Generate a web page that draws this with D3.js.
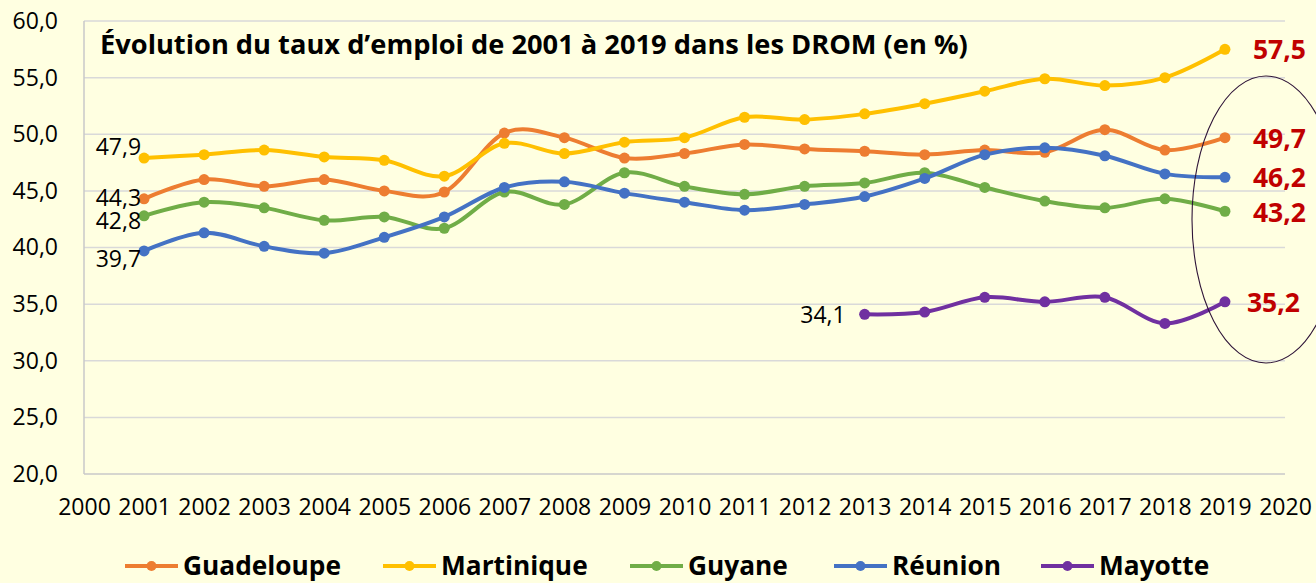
<!DOCTYPE html>
<html><head><meta charset="utf-8">
<script src="https://cdn.jsdelivr.net/npm/d3@7"></script>
<style>
html,body{margin:0;padding:0;background:#FFFFE1;}
svg{display:block;font-family:"Open Sans",sans-serif;}
</style>
</head><body>
<svg id="chart" width="1316" height="583"></svg>
<script>
// ---------- data ----------
const years = [2001,2002,2003,2004,2005,2006,2007,2008,2009,2010,2011,2012,2013,2014,2015,2016,2017,2018,2019];
const yearsMayotte = [2013,2014,2015,2016,2017,2018,2019];
const guadeloupe = [44.3,46.0,45.4,46.0,45.0,44.9,50.1,49.7,47.9,48.3,49.1,48.7,48.5,48.2,48.6,48.4,50.4,48.6,49.7];
const martinique = [47.9,48.2,48.6,48.0,47.7,46.3,49.2,48.3,49.3,49.7,51.5,51.3,51.8,52.7,53.8,54.9,54.3,55.0,57.5];
const guyane     = [42.8,44.0,43.5,42.4,42.7,41.7,44.9,43.8,46.6,45.4,44.7,45.4,45.7,46.6,45.3,44.1,43.5,44.3,43.2];
const reunion    = [39.7,41.3,40.1,39.5,40.9,42.7,45.3,45.8,44.8,44.0,43.3,43.8,44.5,46.1,48.2,48.8,48.1,46.5,46.2];
const mayotte    = [34.1,34.3,35.6,35.2,35.6,33.3,35.2];
const seriesNames = ["Guadeloupe","Martinique","Guyane","Réunion","Mayotte"];
const seriesColors = ["#ED7D31","#FFC000","#70AD47","#4472C4","#7030A0"];
const yTicks = [20,25,30,35,40,45,50,55,60];
const xTicks = [2000,2001,2002,2003,2004,2005,2006,2007,2008,2009,2010,2011,2012,2013,2014,2015,2016,2017,2018,2019,2020];
const titleText = "Évolution du taux d’emploi de 2001 à 2019 dans les DROM (en %)";

const fmt = v => v.toFixed(1).replace(".", ",");

const series = [
  {name: seriesNames[0], color: seriesColors[0], xs: years, ys: guadeloupe},
  {name: seriesNames[1], color: seriesColors[1], xs: years, ys: martinique},
  {name: seriesNames[2], color: seriesColors[2], xs: years, ys: guyane},
  {name: seriesNames[3], color: seriesColors[3], xs: years, ys: reunion},
  {name: seriesNames[4], color: seriesColors[4], xs: yearsMayotte, ys: mayotte}
];

// ---------- layout ----------
const svg = d3.select("#chart");
const x = d3.scaleLinear().domain([2000, 2020]).range([84, 1285]);
const y = d3.scaleLinear().domain([20, 60]).range([474, 21]);

// gridlines
svg.append("g").selectAll("line").data(yTicks.filter(t => t > 20)).join("line")
  .attr("x1", x(2000)).attr("x2", x(2020))
  .attr("y1", d => y(d)).attr("y2", d => y(d))
  .attr("stroke", "#D9D9D9").attr("stroke-width", 1.5);

// axes lines
svg.append("line").attr("x1", x(2000)).attr("x2", x(2000)).attr("y1", y(60)).attr("y2", y(20))
  .attr("stroke", "#C8C8C8").attr("stroke-width", 1.5);
svg.append("line").attr("x1", x(2000)).attr("x2", x(2020)).attr("y1", y(20)).attr("y2", y(20))
  .attr("stroke", "#C8C8C8").attr("stroke-width", 1.5);

// y axis labels
const yAxis = d3.axisLeft(y).tickValues(yTicks).tickFormat(fmt).tickSize(0).tickPadding(26);
const gy = svg.append("g").attr("transform", `translate(${x(2000)},0)`).call(yAxis);
gy.select(".domain").remove();
gy.selectAll("text").attr("font-size", 23).attr("fill", "#000").attr("font-family", "Open Sans");

// x axis labels
const xAxis = d3.axisBottom(x).tickValues(xTicks).tickFormat(d3.format("d")).tickSize(0).tickPadding(25);
const gx = svg.append("g").attr("transform", `translate(0,${y(20)})`).call(xAxis);
gx.select(".domain").remove();
gx.selectAll("text").attr("font-size", 23).attr("fill", "#000").attr("font-family", "Open Sans");

// title
const title = svg.append("text").attr("x", 100).attr("y", 54)
  .attr("font-size", 26).attr("font-weight", "bold").attr("fill", "#000").text(titleText);
(function fit(){
  const w = title.node().getComputedTextLength();
  title.attr("font-size", 26 * 868 / w);
})();

// lines
const line = d3.line().x(d => x(d[0])).y(d => y(d[1])).curve(d3.curveCardinal.tension(0));
series.forEach(s => {
  const pts = s.xs.map((yr, i) => [yr, s.ys[i]]);
  const g = svg.append("g");
  g.append("path").datum(pts).attr("d", line)
    .attr("fill", "none").attr("stroke", s.color).attr("stroke-width", 4).attr("stroke-linecap", "round");
  g.selectAll("circle").data(pts).join("circle")
    .attr("cx", d => x(d[0])).attr("cy", d => y(d[1])).attr("r", 5.5).attr("fill", s.color);
});

// left data labels (first value)
const leftLabelOffsets = {Martinique: -11, Guadeloupe: -1, Guyane: 5, "Réunion": 7.5, Mayotte: 0};
series.forEach(s => {
  const gap = s.name === "Mayotte" ? 19 : 3;
  svg.append("text")
    .attr("x", x(s.xs[0]) - gap)
    .attr("y", y(s.ys[0]) + leftLabelOffsets[s.name])
    .attr("dy", "0.36em").attr("text-anchor", "end")
    .attr("font-size", 23).attr("fill", "#000").text(fmt(s.ys[0]));
});

// right data labels (last value)
const rightLabelOffsets = {Martinique: 0, Guadeloupe: 1, Guyane: 1.5, "Réunion": 0.5, Mayotte: 1};
series.forEach(s => {
  const n = s.xs.length - 1;
  const gap = s.name === "Mayotte" ? 22 : 28;
  svg.append("text")
    .attr("x", x(s.xs[n]) + gap)
    .attr("y", y(s.ys[n]) + rightLabelOffsets[s.name])
    .attr("dy", "0.36em").attr("text-anchor", "start")
    .attr("font-size", 26.5).attr("font-weight", "bold").attr("fill", "#C00000").text(fmt(s.ys[n]));
});

// ellipse annotation
svg.append("ellipse").attr("cx", 1266).attr("cy", 219.5).attr("rx", 74).attr("ry", 143.5)
  .attr("fill", "none").attr("stroke", "#2E1438").attr("stroke-width", 1.1);

// legend
const legendX = [125, 383, 630, 834, 1041];
const lg = svg.append("g");
const legendItems = lg.selectAll("g").data(series).join("g")
  .attr("transform", (d, i) => `translate(${legendX[i]},566)`);
legendItems.append("line").attr("x1", 0).attr("x2", 53).attr("y1", 0).attr("y2", 0)
  .attr("stroke", d => d.color).attr("stroke-width", 4);
legendItems.append("circle").attr("cx", 26.5).attr("cy", 0).attr("r", 5).attr("fill", d => d.color);
const lt = legendItems.append("text").attr("x", 58).attr("y", 0).attr("dy", "0.36em")
  .attr("font-size", 26).attr("font-weight", "bold").attr("fill", "#000").text(d => d.name);
(function fitLegend(){
  const w = lt.filter((d, i) => i === 0).node().getComputedTextLength();
  const fs = 26 * 158 / w;
  lt.attr("font-size", fs);
})();
</script>
</body></html>
